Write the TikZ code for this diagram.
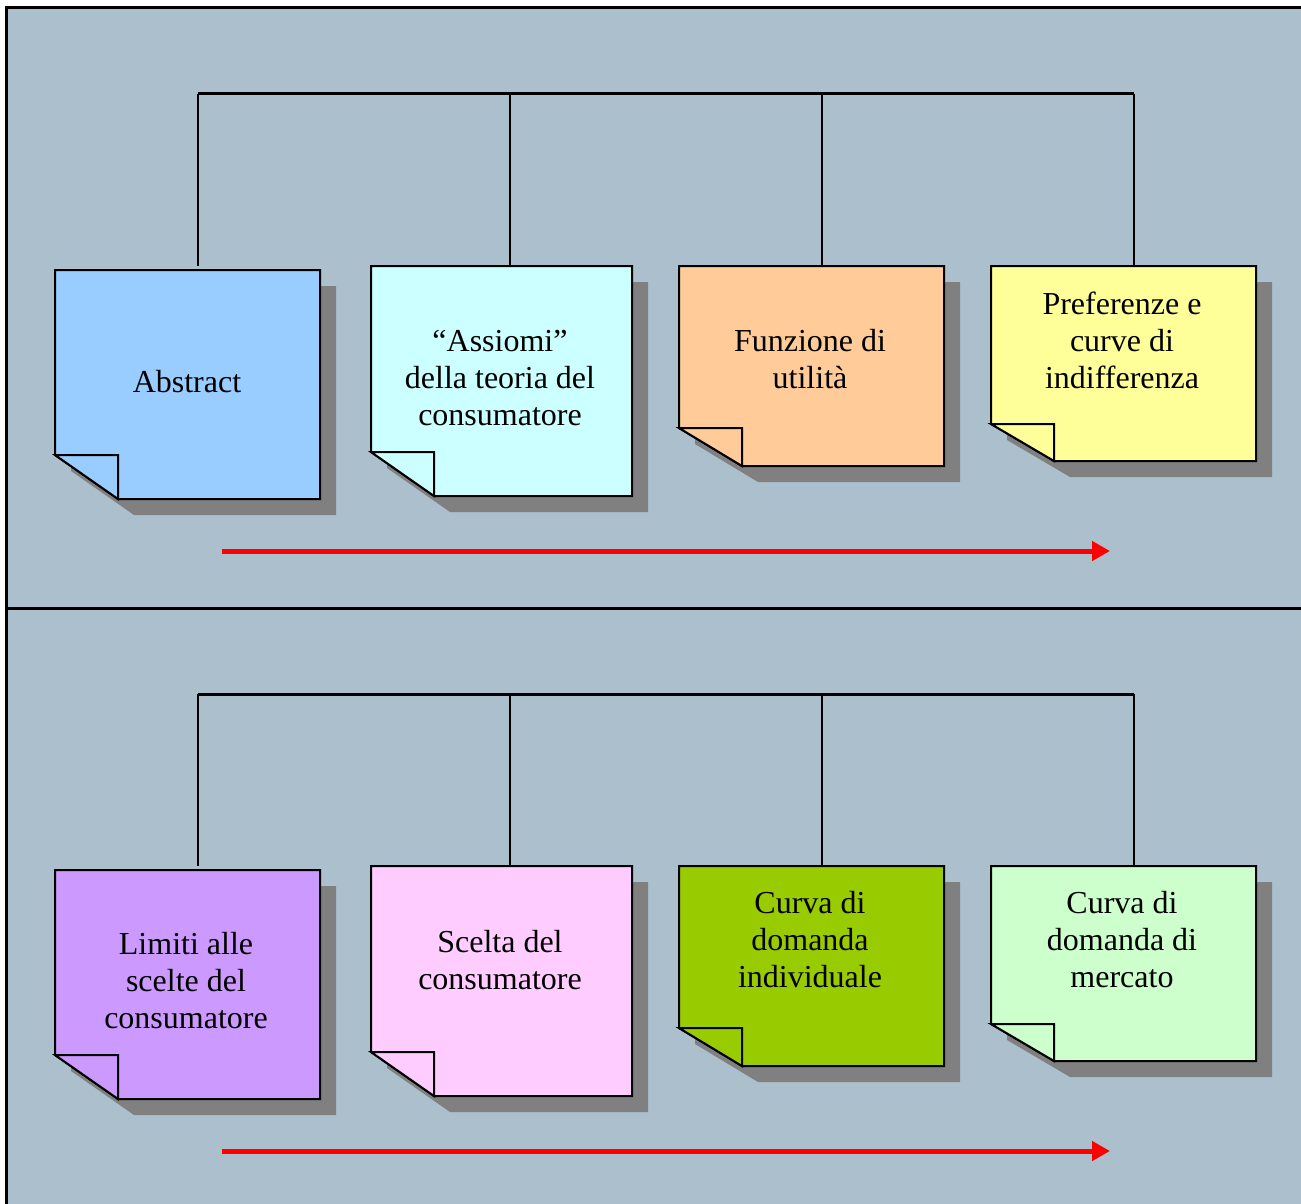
\documentclass[tikz,border=0pt]{standalone}
\usepackage{fontspec}
\setmainfont{Liberation Serif}
\usetikzlibrary{arrows.meta,fit}
\definecolor{panel}{HTML}{ABBFCD}
\definecolor{castgray}{HTML}{808080}
\definecolor{cAbs}{HTML}{99CCFF}
\definecolor{cAss}{HTML}{CCFFFF}
\definecolor{cFun}{HTML}{FFCC99}
\definecolor{cPre}{HTML}{FFFF99}
\definecolor{cLim}{HTML}{CC99FF}
\definecolor{cSce}{HTML}{FFCCFF}
\definecolor{cInd}{HTML}{99CC00}
\definecolor{cMer}{HTML}{CCFFCC}
\definecolor{flow}{HTML}{FF0000}

\tikzset{
  frame/.style={line width=3pt, draw=black},
  bus/.style={line width=3pt, draw=black},
  drop/.style={line width=2pt, draw=black},
  cardline/.style={line width=2pt, draw=black, line join=miter},
  castshadow/.style={fill=castgray},
  label/.style={align=center, inner sep=0pt, font=\fontsize{32}{37}\selectfont},
  progress/.style={draw=flow, line width=5pt, -{Triangle[length=18pt,width=19pt]}},
}

% sticky note with folded bottom-left corner and drop shadow
% #1 name, #2 x1, #3 y1, #4 x2, #5 y2, #6 fold height, #7 fill colour
\newcommand\stickynote[7]{%
  \path[castshadow] ({#2+16},{#3+16}) -- ({#4+16},{#3+16}) -- ({#4+16},{#5+16})
     -- ({#2+63+16},{#5+16}) -- ({#2+16},{#5-#6+16}) -- cycle;
  \filldraw[fill=#7, cardline] (#2,#3) -- (#4,#3) -- (#4,#5)
     -- ({#2+63},#5) -- (#2,{#5-#6}) -- cycle;
  \filldraw[fill=#7, cardline] (#2,{#5-#6}) -- ({#2+63},{#5-#6}) -- ({#2+63},#5) -- cycle;
  \path (#2,#3) coordinate (#1-nw) (#4,#5) coordinate (#1-se);
  \node[inner sep=0pt, fit=(#1-nw)(#1-se)] (#1) {};
}

\begin{document}
\begin{tikzpicture}[x=1pt,y=-1pt]
\useasboundingbox (0,0) rectangle (1301,1204);
\fill[white] (0,0) rectangle (1301,1204);
\fill[panel] (6,8) rectangle (1301,1204);
\draw[frame] (6,1204) -- (6,8) -- (1301,8);
\draw[frame] (6,608) -- (1301,608);

% ---------- upper row ----------
\stickynote{abs}{55}{270}{320}{499}{44}{cAbs}
\stickynote{ass}{371}{266}{632}{496}{44}{cAss}
\stickynote{fun}{679}{266}{944}{466}{38}{cFun}
\stickynote{pre}{991}{266}{1256}{461}{37}{cPre}

\node[label] (tAbs) at (187,382) {Abstract};
\node[label] (tAss) at (500,378) {“Assiomi”\\della teoria del\\consumatore};
\node[label] (tFun) at (810,359) {Funzione di\\utilità};
\node[label] (tPre) at (1122,340) {Preferenze e\\curve di\\indifferenza};

\coordinate (u1) at (198,94);
\coordinate (u2) at (510,94);
\coordinate (u3) at (822,94);
\coordinate (u4) at (1134,94);
\draw[bus] (u1) -- (u4);
\draw[drop] (u1) -- (u1 |- ass.north);
\draw[drop] (u2) -- (u2 |- ass.north);
\draw[drop] (u3) -- (u3 |- fun.north);
\draw[drop] (u4) -- (u4 |- pre.north);

\coordinate (ua) at (222,551);
\coordinate (ub) at (1110,551);
\draw[progress] (ua) -- (ub);

% ---------- lower row ----------
\stickynote{lim}{55}{870}{320}{1099}{44}{cLim}
\stickynote{sce}{371}{866}{632}{1096}{44}{cSce}
\stickynote{ind}{679}{866}{944}{1066}{38}{cInd}
\stickynote{mer}{991}{866}{1256}{1061}{37}{cMer}

\node[label] (tLim) at (186,981) {Limiti alle\\scelte del\\consumatore};
\node[label] (tSce) at (500,960) {Scelta del\\consumatore};
\node[label] (tInd) at (810,940) {Curva di\\domanda\\individuale};
\node[label] (tMer) at (1122,940) {Curva di\\domanda di\\mercato};

\coordinate (l1) at (198,694);
\coordinate (l2) at (510,694);
\coordinate (l3) at (822,694);
\coordinate (l4) at (1134,694);
\draw[bus] (l1) -- (l4);
\draw[drop] (l1) -- (l1 |- sce.north);
\draw[drop] (l2) -- (l2 |- sce.north);
\draw[drop] (l3) -- (l3 |- ind.north);
\draw[drop] (l4) -- (l4 |- mer.north);

\coordinate (la) at (222,1151);
\coordinate (lb) at (1110,1151);
\draw[progress] (la) -- (lb);
\end{tikzpicture}
\end{document}
